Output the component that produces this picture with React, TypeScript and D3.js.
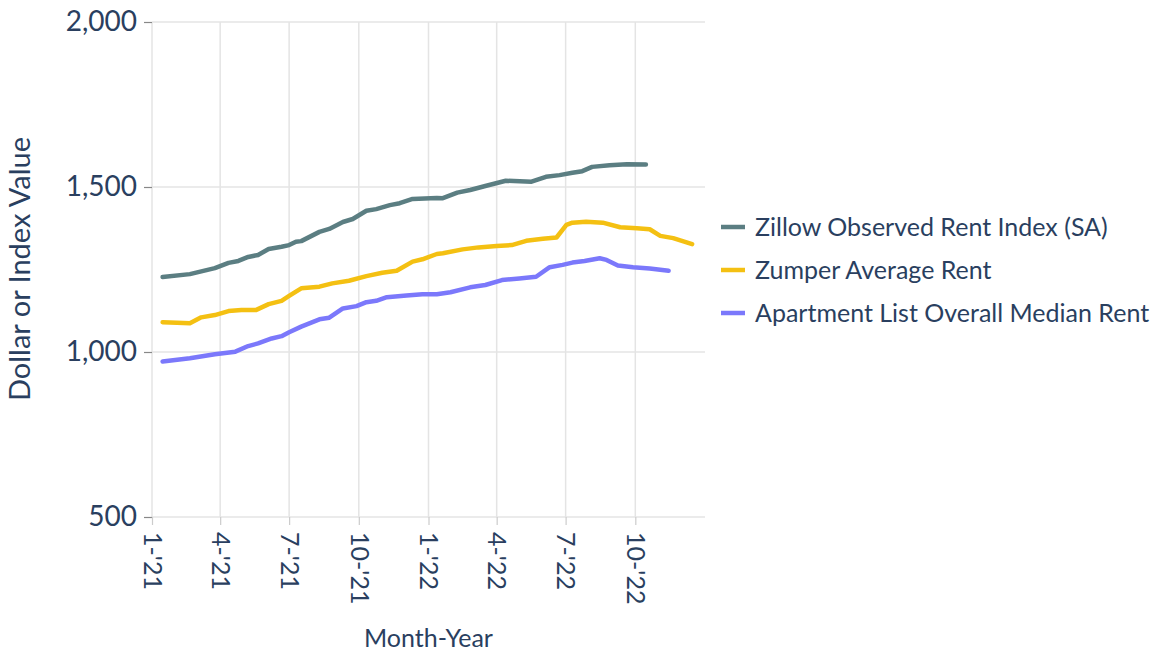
import React, { useEffect, useRef } from 'react';
import * as d3 from 'd3';

// Series values (date, value)
const zillowDates = [
  '2021-01-15', '2021-02-20', '2021-03-25', '2021-04-12', '2021-04-25', '2021-05-08', '2021-05-21',
  '2021-06-04', '2021-06-21', '2021-07-01', '2021-07-10', '2021-07-17', '2021-08-10', '2021-08-23',
  '2021-09-10', '2021-09-23', '2021-10-11', '2021-10-24', '2021-11-11', '2021-11-24', '2021-12-11',
  '2022-01-12', '2022-01-20', '2022-02-08', '2022-02-25', '2022-03-17', '2022-04-13', '2022-05-17',
  '2022-06-05', '2022-06-23', '2022-07-10', '2022-07-23', '2022-08-05', '2022-08-28', '2022-09-20',
  '2022-10-15',
];
const zillowValues = [
  1227, 1236, 1254, 1270, 1276, 1288, 1294,
  1312, 1319, 1324, 1334, 1336, 1364, 1373,
  1394, 1403, 1428, 1433, 1445, 1451, 1464,
  1467, 1466, 1483, 1491, 1503, 1519, 1516,
  1531, 1536, 1543, 1548, 1561, 1566, 1569,
  1568,
];

const zumperDates = [
  '2021-01-15', '2021-02-03', '2021-02-20', '2021-03-07', '2021-03-25', '2021-04-12', '2021-04-29',
  '2021-05-18', '2021-06-04', '2021-06-21', '2021-07-01', '2021-07-17', '2021-08-10', '2021-08-27',
  '2021-09-18', '2021-10-11', '2021-11-01', '2021-11-20', '2021-12-11', '2021-12-24', '2022-01-12',
  '2022-01-20', '2022-02-15', '2022-03-08', '2022-04-01', '2022-04-21', '2022-05-10', '2022-06-01',
  '2022-06-19', '2022-07-02', '2022-07-10', '2022-07-28', '2022-08-19', '2022-09-11', '2022-10-03',
  '2022-10-20', '2022-11-03', '2022-11-20', '2022-12-15',
];
const zumperValues = [
  1090, 1089, 1087, 1105, 1112, 1124, 1127,
  1127, 1145, 1155, 1170, 1193, 1198, 1208,
  1216, 1230, 1240, 1246, 1274, 1281, 1297,
  1299, 1311, 1317, 1321, 1324, 1337, 1343,
  1347, 1385, 1392, 1395, 1392, 1378, 1375,
  1372, 1352, 1345, 1327,
];

const aptListDates = [
  '2021-01-15', '2021-02-20', '2021-03-25', '2021-04-21', '2021-05-08', '2021-05-21', '2021-06-08',
  '2021-06-21', '2021-07-01', '2021-07-17', '2021-08-10', '2021-08-23', '2021-09-10', '2021-09-28',
  '2021-10-11', '2021-10-24', '2021-11-07', '2021-12-03', '2021-12-24', '2022-01-12', '2022-01-30',
  '2022-02-25', '2022-03-17', '2022-04-08', '2022-05-01', '2022-05-23', '2022-06-10', '2022-06-27',
  '2022-07-10', '2022-07-26', '2022-08-15', '2022-08-24', '2022-09-08', '2022-09-28', '2022-10-20',
  '2022-11-14',
];
const aptListValues = [
  971, 981, 993, 1001, 1018, 1026, 1041,
  1048, 1060, 1077, 1099, 1104, 1132, 1139,
  1151, 1155, 1166, 1171, 1175, 1175, 1181,
  1196, 1203, 1218, 1223, 1228, 1257, 1264,
  1271, 1276, 1284, 1279, 1262, 1257, 1253,
  1246,
];

const seriesNames = [
  'Zillow Observed Rent Index (SA)',
  'Zumper Average Rent',
  'Apartment List Overall Median Rent',
];
const seriesColors = ['#5b7e82', '#f4c012', '#7b78fb'];

const yTicks = [500, 1000, 1500, 2000];
const xTickDates = ['2021-01-01', '2021-04-01', '2021-07-01', '2021-10-01', '2022-01-01', '2022-04-01', '2022-07-01', '2022-10-01'];
const xTickLabels = ["1-'21", "4-'21", "7-'21", "10-'21", "1-'22", "4-'22", "7-'22", "10-'22"];

const FONT = 'Lato, "Open Sans", sans-serif';
const TEXT = '#2a3f5f';

const RentChart: React.FC = () => {
  const svgRef = useRef<SVGSVGElement>(null);

  useEffect(() => {
    if (!svgRef.current) return;
    const el = svgRef.current;
    d3.select(el).selectAll('*').remove();

    const margin = { top: 22, left: 152 };
    const width = 553;
    const height = 495;
    const parse = d3.utcParse('%Y-%m-%d');

    const svg = d3.select(el).append('g').attr('transform', `translate(${margin.left},${margin.top})`);

    const x = d3
      .scaleUtc()
      .domain([parse('2021-01-01')!, parse('2023-01-01')!])
      .range([0, width]);
    const y = d3.scaleLinear().domain([500, 2000]).range([height, 0]);

    // grid
    svg
      .append('g')
      .selectAll('line')
      .data(xTickDates.slice(1))
      .join('line')
      .attr('x1', (d) => x(parse(d)!))
      .attr('x2', (d) => x(parse(d)!))
      .attr('y1', 0)
      .attr('y2', height)
      .attr('stroke', '#e4e4e4')
      .attr('stroke-width', 1.5);

    svg
      .append('g')
      .selectAll('line')
      .data(yTicks.slice(1))
      .join('line')
      .attr('x1', 0)
      .attr('x2', width)
      .attr('y1', (d) => y(d))
      .attr('y2', (d) => y(d))
      .attr('stroke', '#e4e4e4')
      .attr('stroke-width', 1.5);

    // axis lines
    svg.append('line').attr('x1', 0).attr('x2', 0).attr('y1', 0).attr('y2', height).attr('stroke', '#e4e4e4').attr('stroke-width', 1.5);
    svg.append('line').attr('x1', 0).attr('x2', width).attr('y1', height).attr('y2', height).attr('stroke', '#e4e4e4').attr('stroke-width', 1.5);

    // y axis
    const yAxis = d3
      .axisLeft(y)
      .tickValues(yTicks)
      .tickSize(8)
      .tickPadding(7)
      .tickFormat((v) => d3.format(',')(v as number));
    svg
      .append('g')
      .call(yAxis)
      .call((g) => g.select('.domain').remove())
      .call((g) => g.selectAll('.tick line').attr('stroke', '#888').attr('stroke-width', 1.2))
      .call((g) =>
        g.selectAll('.tick text').attr('fill', TEXT).attr('font-size', 28).attr('font-family', FONT)
      );

    // x axis
    const xAxis = d3
      .axisBottom(x)
      .tickValues(xTickDates.map((d) => parse(d)!))
      .tickSize(8)
      .tickFormat((_, i) => xTickLabels[i]);
    svg
      .append('g')
      .attr('transform', `translate(0,${height})`)
      .call(xAxis)
      .call((g) => g.select('.domain').remove())
      .call((g) => g.selectAll('.tick line').attr('stroke', '#ccc').attr('stroke-width', 1.2))
      .call((g) =>
        g
          .selectAll('.tick text')
          .attr('fill', TEXT)
          .attr('font-size', 25)
          .attr('font-family', FONT)
          .attr('transform', 'rotate(90)')
          .attr('text-anchor', 'start')
          .attr('dy', '0.35em')
          .attr('x', 15)
          .attr('y', 0)
      );

    // lines
    const all = [
      { dates: zillowDates, values: zillowValues },
      { dates: zumperDates, values: zumperValues },
      { dates: aptListDates, values: aptListValues },
    ];
    const line = d3
      .line<[Date, number]>()
      .x((d) => x(d[0]))
      .y((d) => y(d[1]));

    all.forEach((s, i) => {
      const pts: [Date, number][] = s.dates.map((d, j) => [parse(d)!, s.values[j]]);
      svg
        .append('path')
        .datum(pts)
        .attr('d', line)
        .attr('fill', 'none')
        .attr('stroke', seriesColors[i])
        .attr('stroke-width', 4.5)
        .attr('stroke-linejoin', 'round')
        .attr('stroke-linecap', 'round');
    });

    // axis titles
    d3.select(el)
      .append('text')
      .attr('x', margin.left + x(parse('2022-01-01')!))
      .attr('y', 647)
      .attr('text-anchor', 'middle')
      .attr('fill', TEXT)
      .attr('font-size', 25)
      .attr('font-family', FONT)
      .text('Month-Year');

    d3.select(el)
      .append('text')
      .attr('transform', `translate(30,269) rotate(-90)`)
      .attr('text-anchor', 'middle')
      .attr('fill', TEXT)
      .attr('font-size', 29)
      .attr('font-family', FONT)
      .text('Dollar or Index Value');

    // legend
    const legend = d3.select(el).append('g').attr('transform', 'translate(721,227)');
    seriesNames.forEach((name, i) => {
      const row = legend.append('g').attr('transform', `translate(0,${i * 43})`);
      row
        .append('line')
        .attr('x1', 0)
        .attr('x2', 24)
        .attr('y1', 0)
        .attr('y2', 0)
        .attr('stroke', seriesColors[i])
        .attr('stroke-width', 4.5);
      row
        .append('text')
        .attr('x', 34)
        .attr('y', 0)
        .attr('dy', '0.35em')
        .attr('fill', TEXT)
        .attr('font-size', 25)
        .attr('font-family', FONT)
        .text(name);
    });
  }, []);

  return <svg ref={svgRef} width={1157} height={653} style={{ display: 'block' }} />;
};

export default function App() {
  return (
    <div style={{ position: 'absolute', left: 0, top: 0, background: '#fff' }}>
      <RentChart />
    </div>
  );
}
